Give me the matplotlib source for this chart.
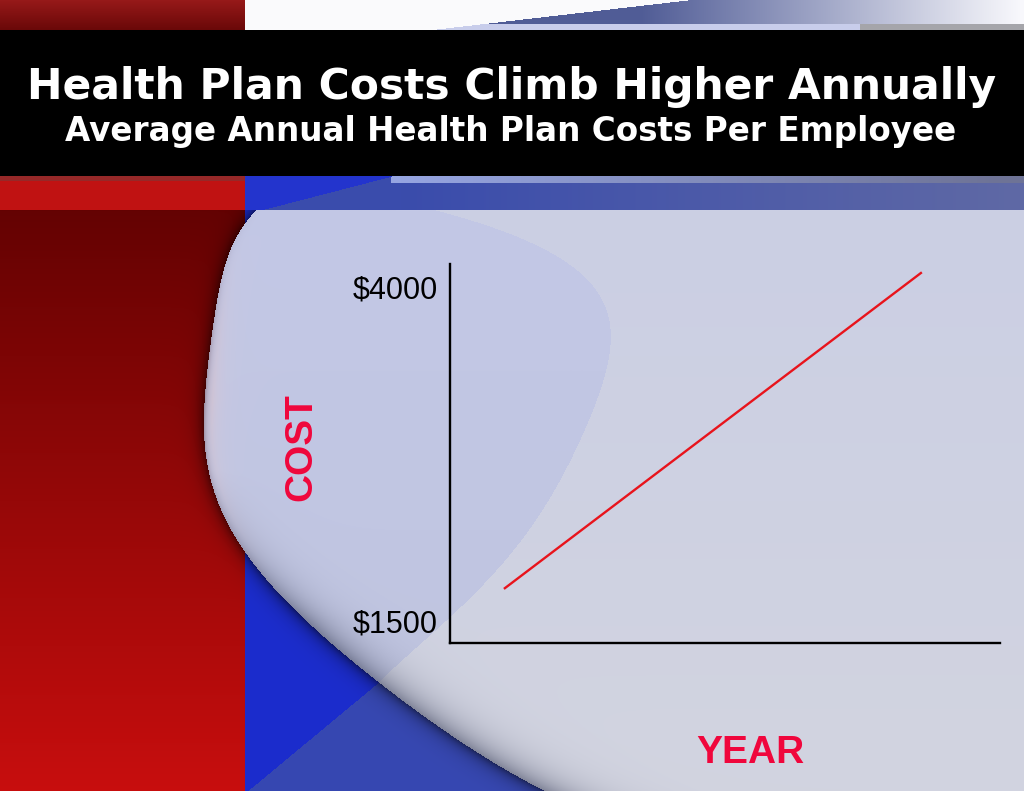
import numpy as np
import matplotlib
matplotlib.use("Agg")
import matplotlib.pyplot as plt

# ---------------- data ----------------
title = "Health Plan Costs Climb Higher Annually"
subtitle = "Average Annual Health Plan Costs Per Employee"
years = [0, 1]                 # start / end of the period (no year labels shown)
costs = [1740, 4110]           # average annual cost per employee ($)
ytick_vals = [1500, 4000]
ytick_labels = ["$1500", "$4000"]
y_label = "COST"
x_label = "YEAR"

# ---------------- background (slide design) ----------------
W, H = 1024, 791
yy, xx = np.mgrid[0:H, 0:W].astype(float)
img = np.zeros((H, W, 3))
rows = np.arange(H, dtype=float)


def c(rgb):
    return np.array(rgb, dtype=float) / 255.0


def blend(a, b, t):
    t = np.asarray(t)[..., None]
    return a * (1 - t) + b * t


def fit_curve(ys, xs, deg):
    ys = np.asarray(ys, float)
    u = (ys - 500.0) / 300.0
    p = np.polyfit(u, xs, deg)
    return np.polyval(p, (rows - 500.0) / 300.0)


# top strip
top = yy < 30
img[top] = c((250, 250, 252))
m = top & (xx < 245)
img[m] = blend(c((150, 25, 25)), c((105, 8, 8)), (yy[m] / 30.0))
xl = 428 + (30 - yy) * (687 - 428) / 30.0
m = top & (xx >= 245) & (xx > xl)
t = np.clip((xx[m] - 640) / 380.0, 0, 1)
img[m] = blend(c((80, 92, 150)), c((248, 248, 252)), t)
m2 = top & (xx > xl) & (yy >= 24) & (xx < 860)
img[m2] = c((200, 205, 235))
m3 = top & (yy >= 24) & (xx >= 860)
img[m3] = c((165, 165, 170))

# strip 176-210
s = (yy >= 176) & (yy < 210)
m = s & (xx < 245)
img[m] = c((192, 18, 18))
img[m & (yy < 181)] = c((150, 40, 40))
m = s & (xx >= 245)
t = np.clip((xx[m] - 400) / 620.0, 0, 1)
img[m] = blend(c((58, 76, 172)), c((95, 105, 165)), t)
m = s & (xx >= 245) & (yy < 183) & (xx > 390)
t = np.clip((xx[m] - 400) / 600.0, 0, 1)
img[m] = blend(c((150, 165, 225)), c((110, 115, 150)), t)
xd = 261 + (210 - yy) * (392 - 261) / 34.0
m = s & (xx >= 245) & (xx < xd)
img[m] = c((35, 52, 205))

# main area
main = yy >= 210
m = main & (xx < 245)
img[m] = blend(c((100, 2, 2)), c((200, 14, 14)), (yy[m] - 210) / 581.0)
m = main & (xx >= 245)
img[m] = c((28, 45, 205))
wedge = main & (xx >= 245) & (((yy - 700) * (257 - 357) - (xx - 357) * (783 - 700)) < 0)
img[wedge] = c((55, 72, 178))

ys_out = [212, 255, 305, 372, 405, 472, 500, 525, 557, 590, 627, 667, 697, 727, 760, 783, 791]
xs_out = [253, 230, 213, 207, 205, 210, 217, 225, 247, 277, 317, 357, 397, 440, 490, 530, 545]
xo_row = fit_curve(ys_out, xs_out, 6)
xo = np.broadcast_to(xo_row[:, None], (H, W))
slope = np.gradient(xo_row)
cosv = 1.0 / np.sqrt(1 + slope ** 2)
dist = (xx - xo) * cosv[:, None]

# drop shadow outside the shape
outside = main & (xx < xo)
dd = -dist[outside]
k = 0.5 * np.exp(-dd / 7.0)
img[outside] = img[outside] * (1 - k[:, None])

inside = main & (xx >= xo)
ys_in = [212, 233, 267, 300, 350, 400, 450, 500, 535, 570, 600, 640, 673, 700]
xs_in = [440, 513, 575, 598, 607, 600, 575, 548, 525, 495, 465, 425, 390, 360]
xi_row = fit_curve(ys_in, xs_in, 5)
xi = np.broadcast_to(xi_row[:, None], (H, W))
t = np.clip((yy[inside] - 210) / 581.0, 0, 1)
img[inside] = blend(c((203, 207, 228)), c((210, 212, 224)), t)
lav = inside & (xx < xi) & (yy <= 700)
t = np.clip((yy[lav] - 210) / 480.0, 0, 1)
img[lav] = blend(c((195, 200, 230)), c((192, 197, 224)), t)

# edge shading inside the shape
d = dist[inside]
yi = yy[inside]
ws = np.clip((yi - 470) / 150.0, 0, 1) * 0.6 * np.exp(-d / 16.0)
img[inside] = blend(img[inside], c((75, 80, 105)), ws)
wh = np.clip(1 - np.abs(yi - 400) / 170.0, 0, 1) * 0.5 * np.exp(-np.abs(d - 8) / 10.0)
img[inside] = blend(img[inside], c((225, 200, 208)), wh)
we = np.clip(1 - np.abs(yi - 400) / 200.0, 0, 1) * 0.5 * np.exp(-d / 3.0)
img[inside] = blend(img[inside], c((110, 80, 95)), we)

# ---------------- figure ----------------
fig = plt.figure(figsize=(W / 100, H / 100), dpi=100)
bg = fig.add_axes([0, 0, 1, 1])
bg.imshow(np.clip(img, 0, 1), aspect="auto", extent=(0, W, H, 0), interpolation="bilinear")
bg.set_xlim(0, W)
bg.set_ylim(H, 0)
bg.axis("off")

ax = fig.add_axes([450 / W, 1 - 643 / H, 550 / W, (643 - 264) / H])
ax.patch.set_alpha(0)
ax.plot(years, costs, color="#E8141C", lw=1.7, solid_capstyle="butt")
ax.set_xlim(-0.129, 1.187)
ax.set_ylim(1335, 4172)
for sp in ("top", "right"):
    ax.spines[sp].set_visible(False)
for sp in ("left", "bottom"):
    ax.spines[sp].set_linewidth(1.7)
    ax.spines[sp].set_color("black")
ax.set_xticks([])
ax.set_yticks(ytick_vals)
ax.set_yticklabels(ytick_labels, fontsize=22, family="Liberation Sans", color="black")
ax.tick_params(axis="y", length=0, pad=9)

fig.text(512 / W, 1 - 99 / H, title, ha="center", va="baseline", color="white",
         fontsize=30.5, fontweight="bold", family="DejaVu Sans")
fig.text(511 / W, 1 - 141 / H, subtitle, ha="center", va="baseline", color="white",
         fontsize=23.5, fontweight="bold", family="DejaVu Sans")
fig.text(301 / W, 1 - 447 / H, y_label, rotation=90, ha="center", va="center",
         color="#F0063C", fontsize=28, fontweight="bold", family="Liberation Sans")
fig.text(750 / W, 1 - 763 / H, x_label, ha="center", va="baseline",
         color="#F0063C", fontsize=28, fontweight="bold", family="Liberation Sans")

fig.savefig("out.png", dpi=100)
